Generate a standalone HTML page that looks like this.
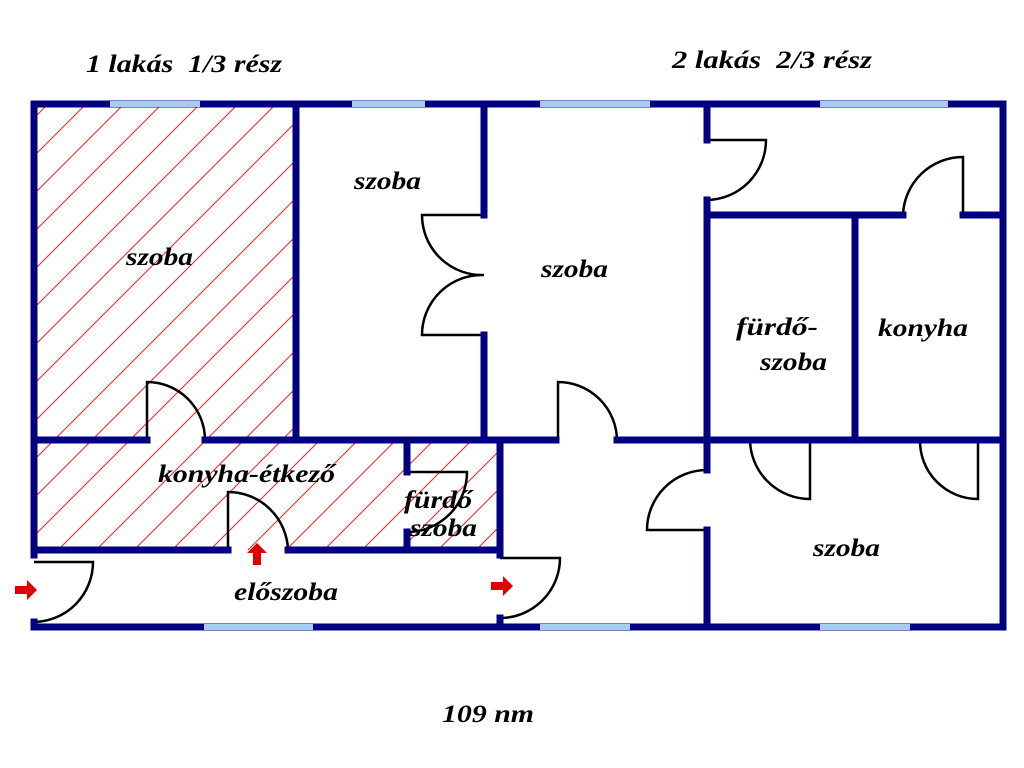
<!DOCTYPE html>
<html><head><meta charset="utf-8"><style>
html,body{margin:0;padding:0;background:#fff;width:1024px;height:768px;overflow:hidden}
text{font-family:"Liberation Serif",serif;font-weight:bold;font-style:italic;fill:#000}
</style></head><body>
<svg width="1024" height="768" viewBox="0 0 1024 768" xmlns="http://www.w3.org/2000/svg">
<defs>
<pattern id="h" patternUnits="userSpaceOnUse" width="38" height="38">
<path d="M-1,39 L39,-1 M-20,20 L20,-20 M18,58 L58,18" stroke="#e03030" stroke-width="1.1"/>
</pattern>
</defs>
<rect x="34" y="104" width="262" height="336" fill="url(#h)"/>
<rect x="34" y="440" width="466" height="110" fill="url(#h)"/>

<g fill="none" stroke="#000" stroke-width="2.5">
<path d="M147,440 V382 A58,58 0 0 1 205,440"/>
<path d="M484,215 H422 A60,60 0 0 0 484,275 A60,60 0 0 0 422,335 H484"/>
<path d="M558,440 V382 A59,59 0 0 1 617,440"/>
<path d="M407,472 H467 A60,60 0 0 1 407,532"/>
<path d="M228,550 V492 A60,60 0 0 1 288,550"/>
<path d="M34,562 H93 A60,60 0 0 1 34,622"/>
<path d="M500,558 H560 A60,60 0 0 1 500,618"/>
<path d="M707,140 H766 A60,60 0 0 1 707,200"/>
<path d="M707,530 H647 A60,60 0 0 1 707,470"/>
<path d="M963,215 V157 A60,60 0 0 0 903,215"/>
<path d="M810,440 V499 A60,60 0 0 1 750,440"/>
<path d="M978,440 V499 A58,58 0 0 1 920,440"/>
</g>

<g stroke="#000080" stroke-width="7" stroke-linecap="square" fill="none">
<path d="M34,104 H1003 V627 H34"/>
<path d="M34,104 V555"/>
<path d="M34,622 V627"/>
<path d="M296,104 V440"/>
<path d="M484,104 V215 M484,335 V440"/>
<path d="M34,440 H147 M205,440 H556 M617,440 H1003"/>
<path d="M500,440 V555 M500,618 V627"/>
<path d="M407,440 V472 M407,532 V550"/>
<path d="M34,550 H228 M288,550 H500"/>
<path d="M707,104 V140 M707,200 V470 M707,530 V627"/>
<path d="M707,215 H903 M963,215 H1003"/>
<path d="M855,215 V440"/>
</g>
<g stroke="#a8ccf0" stroke-width="6">
<path d="M110,104 H200 M352,104 H425 M540,104 H650 M820,104 H948"/>
<path d="M204,627 H313 M540,627 H630 M820,627 H910"/>
</g>
<g fill="#e00000">
<path d="M15,586 H27 V580 L37,590 L27,600 V594 H15 Z"/>
<path d="M491,582 H503 V576 L513,586 L503,596 V590 H491 Z"/>
<path d="M253,565 V553 H247 L257,543 L267,553 H261 V565 Z"/>
</g>

<g font-size="25" lengthAdjust="spacingAndGlyphs">
<text x="86" y="72" textLength="196" lengthAdjust="spacingAndGlyphs" xml:space="preserve">1 lakás  1/3 rész</text>
<text x="672" y="68" textLength="200" lengthAdjust="spacingAndGlyphs" xml:space="preserve">2 lakás  2/3 rész</text>
<text x="442" y="722" textLength="92" lengthAdjust="spacingAndGlyphs">109 nm</text>
<text x="126" y="265" textLength="67" lengthAdjust="spacingAndGlyphs">szoba</text>
<text x="354" y="189" textLength="67" lengthAdjust="spacingAndGlyphs">szoba</text>
<text x="541" y="277" textLength="67" lengthAdjust="spacingAndGlyphs">szoba</text>
<text x="736" y="335" textLength="82" lengthAdjust="spacingAndGlyphs">fürdő-</text>
<text x="760" y="370" textLength="67" lengthAdjust="spacingAndGlyphs">szoba</text>
<text x="878" y="336" textLength="90" lengthAdjust="spacingAndGlyphs">konyha</text>
<text x="813" y="556" textLength="67" lengthAdjust="spacingAndGlyphs">szoba</text>
<text x="158" y="482" textLength="177" lengthAdjust="spacingAndGlyphs">konyha-étkező</text>
<text x="404" y="508" textLength="68" lengthAdjust="spacingAndGlyphs">fürdő</text>
<text x="410" y="536" textLength="67" lengthAdjust="spacingAndGlyphs">szoba</text>
<text x="234" y="600" textLength="104" lengthAdjust="spacingAndGlyphs">előszoba</text>
</g>
</svg>
</body></html>
